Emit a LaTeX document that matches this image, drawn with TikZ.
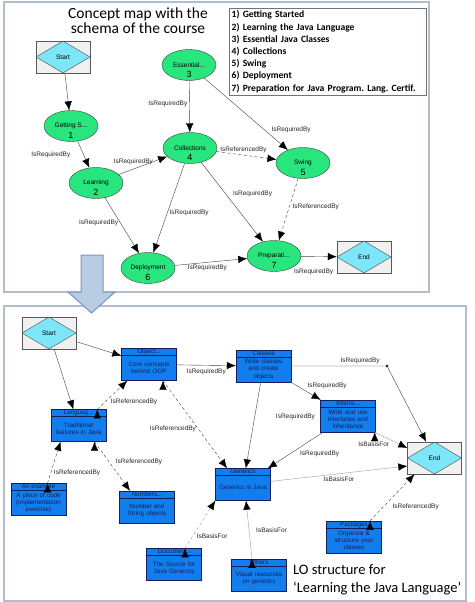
\documentclass[tikz,border=0pt]{standalone}
\usepackage{fontspec}
\setmainfont{Liberation Sans}
\newfontfamily\cali{Carlito}
\usepackage{xcolor}
\usepackage{tikz}
\usetikzlibrary{shapes.geometric, positioning, arrows.meta}
\frenchspacing

\definecolor{panelgray}{RGB}{176,190,206}
\definecolor{topicgreen}{RGB}{40,230,125}
\definecolor{termcyan}{RGB}{125,230,248}
\definecolor{termgray}{RGB}{240,240,240}
\definecolor{loblue}{RGB}{18,126,238}
\definecolor{lonavy}{RGB}{20,30,90}
\definecolor{basis}{RGB}{150,150,215}
\definecolor{bigarrow}{RGB}{184,204,228}
\definecolor{bigarrowline}{RGB}{120,150,195}

\tikzset{
  panel/.style={draw=panelgray, line width=1.5pt},
  topicno/.style={yshift=-9.5pt, inner sep=0pt, font=\fontsize{9}{9}\selectfont},
  topic/.style={ellipse, draw=black!75, fill=topicgreen, minimum width=54pt, minimum height=31pt, inner sep=0pt, font=\fontsize{6.5}{7}\selectfont, label={[topicno]center:#1}},
  terminal/.style={rectangle, draw=black!65, fill=termgray, minimum width=54pt, minimum height=32pt, font=\fontsize{6.5}{7}\selectfont,
    path picture={\draw[black!70, fill=termcyan] (path picture bounding box.west) -- (path picture bounding box.north) -- (path picture bounding box.east) -- (path picture bounding box.south) -- cycle;}},
  lotitle/.style={anchor=north, inner sep=0.6pt, text=lonavy, font=\fontsize{6.3}{7}\selectfont},
  lo/.style={rectangle, draw=lonavy, fill=loblue, minimum width=55pt, minimum height=32pt, text width=53pt, inner sep=0pt, align=center, text=lonavy,
    font=\fontsize{6.3}{7.2}\selectfont, execute at begin node={\rule{0pt}{11pt}}, label={[lotitle]north:#1},
    path picture={\draw[lonavy] ([yshift=-7pt]path picture bounding box.north west) -- ([yshift=-7pt]path picture bounding box.north east);}},
  lbl/.style={inner sep=1pt, font=\fontsize{6.5}{7}\selectfont, text=black!85},
  refline/.style={dash pattern=on 3pt off 2.5pt},
  basisline/.style={draw=basis},
}

\begin{document}
\begin{tikzpicture}[x=1pt, y=-1pt, >={Latex[length=9pt,width=7.5pt,color=black]}, draw=black!75]
  \useasboundingbox (0,0) rectangle (474,602);
  \draw[panel] (4,2) rectangle (429,292);
  \draw[panel] (4,306) rectangle (466,601);

  \node[font=\cali\fontsize{15.5}{15}\selectfont, align=center] (title) at (138,21) {Concept map with the\\schema of the course};
  \node[draw=black!55, fill=white, anchor=north west, minimum width=197pt, minimum height=87pt, text width=192pt, align=left, inner sep=2.5pt,
    font=\cali\bfseries\fontsize{9.6}{12.2}\selectfont] (legend) at (229,8)
    {1) Getting Started\\2) Learning the Java Language\\3) Essential Java Classes\\4) Collections\\5) Swing\\6) Deployment\\7) Preparation for Java Program. Lang. Certif.};

  \node[terminal] (start) at (63,57) {Start};
  \node[topic=1] (gs) at (71,126) {Getting S...};
  \node[topic=2] (ln) at (96,183) {Learning};
  \node[topic=3] (es) at (189,65) {Essential...};
  \node[topic=4] (co) at (190,148) {Collections};
  \node[topic=5] (sw) at (303,163) {Swing};
  \node[topic=6] (dp) at (148,268) {Deployment};
  \node[topic=7] (pr) at (274,256) {Preparati...};
  \node[terminal] (endT) at (364,257) {End};

  \draw [->] (start) edge (gs);
  \draw [->] (gs) edge node[lbl, left=12pt] {IsRequiredBy} (ln);
  \draw [->] (ln) edge node[lbl, pos=.3, above=3pt] {IsRequiredBy} (co);
  \draw [->] (es) edge node[lbl, pos=.45, left=1pt] {IsRequiredBy} (co);
  \draw [->] (es) edge node[lbl, pos=.72, right=6pt] {IsRequiredBy} (sw);
  \draw [->, refline] (co) edge node[lbl, pos=.45, above=1pt] {IsReferencedBy} (sw);
  \draw [->] (co) edge node[lbl, pos=.55, right=1pt] {IsRequiredBy} (dp);
  \draw [->] (co) edge node[lbl, pos=.4, right=6pt] {IsRequiredBy} (pr);
  \draw [->] (ln) edge node[lbl, pos=.45, left=1pt] {IsRequiredBy} (dp);
  \draw [->, refline] (sw) edge node[lbl, pos=.45, right=2pt] {IsReferencedBy} (pr);
  \draw [->] (dp) edge node[lbl, pos=.45, below=1pt] {IsRequiredBy} (pr);
  \draw [->] (pr) edge node[lbl, pos=.35, below=11pt] {IsRequiredBy} (endT);

  \filldraw[fill=bigarrow, draw=bigarrowline, line width=1pt] (81,255) -- (103,255) -- (103,292) -- (115,292) -- (91.5,313) -- (68,292) -- (81,292) -- cycle;

  \node[terminal] (startB) at (49,333) {Start};
  \node[lo=Object...] (obj) at (149,364.5) {Core concepts\\behind OOP};
  \node[lo=Classes] (classes) at (263.5,366) {Write classes\\and create\\objects};
  \node[lo=Interfa...] (interfa) at (348,416) {Write and use\\interfaces and\\inheritance};
  \node[lo=Languag...] (lang) at (78.5,425.5) {Traditional\\features in Java};
  \node[terminal] (endB) at (434.5,458) {End};
  \node[lo=Generics] (generics) at (243,484.5) {Generics in Java};
  \node[lo=An example] (example) at (38.5,499.5) {A piece of code\\(implementation\\exercise)};
  \node[lo=Numbers...] (numbers) at (147,507) {Number and\\String objects};
  \node[lo=Documen...] (documen) at (174,564.5) {The Source for\\Java Generics};
  \node[lo=Others] (others) at (259,575) {Visual resources\\on generics};
  \node[lo=Packages] (packages) at (354,537) {Organize \&\\structure your\\classes};

  \draw [->] (startB) edge (obj);
  \draw [->] (startB) edge (lang);
  \draw [->] (obj) edge node[lbl, below=2pt] {IsRequiredBy} (classes);
  \draw [->, refline] ([xshift=-9pt]lang.north east) edge node[lbl, pos=.25, right=5pt] {IsReferencedBy} ([xshift=6pt]obj.south west);
  \draw [->, refline] ([xshift=14pt]obj.south) edge node[lbl, pos=.55, left=1pt] {IsReferencedBy} ([xshift=-16pt]generics.north);
  \draw [->] (classes) edge node[lbl, pos=.4, right=20pt] {IsRequiredBy} (generics);
  \draw [->] (classes) edge node[lbl, above right=1pt] {IsRequiredBy} (interfa);
  \coordinate (kink) at (387,366);
  \fill[black] (kink) circle (1.4pt);
  \draw [->] (classes) -- (kink) node[lbl, pos=.72, above=1pt] {IsRequiredBy} -- (endB);
  \draw [->] (interfa) edge node[lbl, pos=.45, below right=1pt] {IsRequiredBy} (generics);
  \draw [->, basisline] ([xshift=-1pt]interfa.south east) edge node[lbl, below left=1pt] {IsBasisFor} ([yshift=10pt]endB.west);
  \draw [->, basisline] (generics) edge node[lbl, pos=.5, below=2pt] {IsBasisFor} ([yshift=-8pt]endB.west);
  \draw [->, refline] ([xshift=9pt]example.north) edge node[lbl, pos=.25, right=2pt] {IsReferencedBy} ([xshift=-18pt]lang.south);
  \draw [->, refline] ([xshift=16pt]lang.south) edge node[lbl, pos=.4, right=6pt] {IsReferencedBy} ([xshift=-17pt]numbers.north);
  \draw [->, basisline, refline] ([xshift=11pt]documen.north) edge node[lbl, pos=.25, right=3pt] {IsBasisFor} (generics.south west);
  \draw [->, basisline] ([xshift=-7pt]others.north) edge node[lbl, right=6pt] {IsBasisFor} ([xshift=3pt]generics.south);
  \draw [->, refline] ([xshift=16pt]packages.north) edge node[lbl, pos=.3, right=8pt] {IsReferencedBy} ([xshift=-20pt]endB.south);

  \node[font=\cali\fontsize{14.5}{18}\selectfont, anchor=west, align=left, inner sep=0pt] (lotext) at (293,580) {LO structure for\\‘Learning the Java Language’};
\end{tikzpicture}
\end{document}
